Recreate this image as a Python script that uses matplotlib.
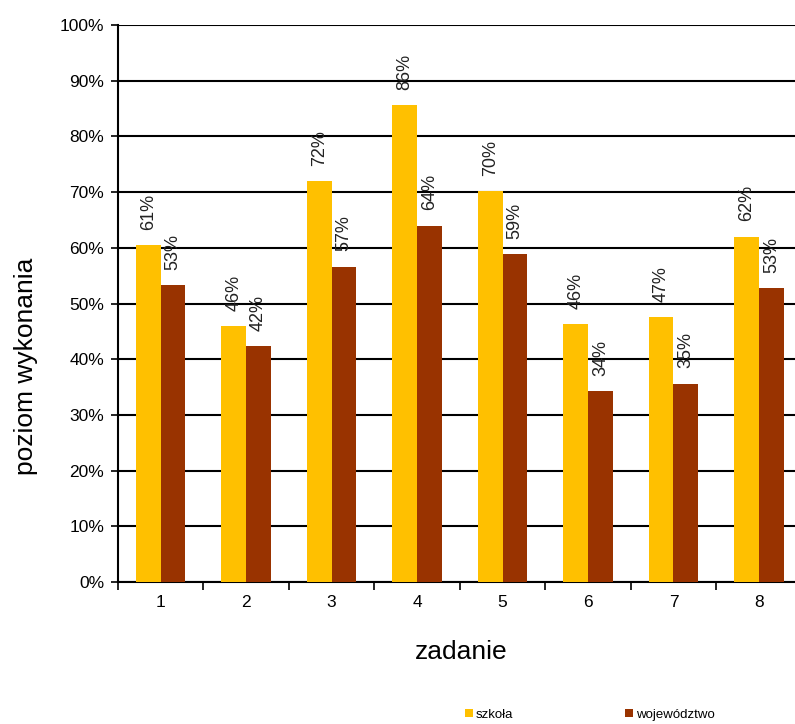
import numpy as np
import matplotlib.pyplot as plt
from matplotlib.ticker import FixedLocator, PercentFormatter

plt.rcParams['font.family'] = ['Liberation Sans', 'DejaVu Sans']

# dane
zadania = ['1', '2', '3', '4', '5', '6', '7', '8']
szkola = [60.5, 46.0, 72.0, 85.6, 70.2, 46.3, 47.5, 62.0]
wojewodztwo = [53.3, 42.4, 56.6, 64.0, 58.9, 34.3, 35.6, 52.7]
etykiety_szkola = ['61%', '46%', '72%', '86%', '70%', '46%', '47%', '62%']
etykiety_woj = ['53%', '42%', '57%', '64%', '59%', '34%', '35%', '53%']

yellow = '#FFC000'
brown = '#993300'

fig = plt.figure(figsize=(7.95, 7.24), dpi=100)
ax = fig.add_axes([0.1484, 0.1961, 0.860, 0.7693])

x = np.arange(len(zadania))
w = 0.29
b1 = ax.bar(x - w / 2, szkola, w, color=yellow, label='szkoła', zorder=3)
b2 = ax.bar(x + w / 2, wojewodztwo, w, color=brown, label='województwo', zorder=3)

for bars, labels in ((b1, etykiety_szkola), (b2, etykiety_woj)):
    for bar, lab in zip(bars, labels):
        ax.annotate(lab, (bar.get_x() + bar.get_width() / 2, bar.get_height()),
                    xytext=(0, 11), textcoords='offset points', rotation=90,
                    ha='center', va='bottom', fontsize=13, color='#222222', zorder=4)

ax.set_xlim(-0.5, len(zadania) - 0.5)
ax.set_ylim(0, 100)
ax.set_yticks(np.arange(0, 101, 10))
ax.yaxis.set_major_formatter(PercentFormatter(decimals=0))
ax.set_xticks(x)
ax.set_xticklabels(zadania)
ax.xaxis.set_minor_locator(FixedLocator(np.arange(-0.5, len(zadania), 1)))
ax.tick_params(axis='x', which='major', length=0, labelsize=12.5, pad=9)
ax.tick_params(axis='x', which='minor', length=6, width=1.2, direction='out')
ax.tick_params(axis='y', length=5, width=1.2, labelsize=12.5, pad=5)

ax.grid(axis='y', color='black', linewidth=1.5, zorder=0)
for s in ('top', 'right'):
    ax.spines[s].set_visible(False)
ax.spines['left'].set_linewidth(1.5)
ax.spines['bottom'].set_linewidth(1.5)

ax.set_xlabel('zadanie', fontsize=19)
ax.xaxis.set_label_coords(0.502, -0.104)
ax.set_ylabel('poziom wykonania', fontsize=19)
ax.yaxis.set_label_coords(-0.117, 0.388)

fig.legend(handles=[b1, b2], loc='center', bbox_to_anchor=(0.742, 0.013), ncol=2,
           frameon=False, fontsize=9.5, handlelength=0.6, handleheight=0.6,
           handletextpad=0.2, columnspacing=8.5)

fig.savefig('out.png', dpi=100)
